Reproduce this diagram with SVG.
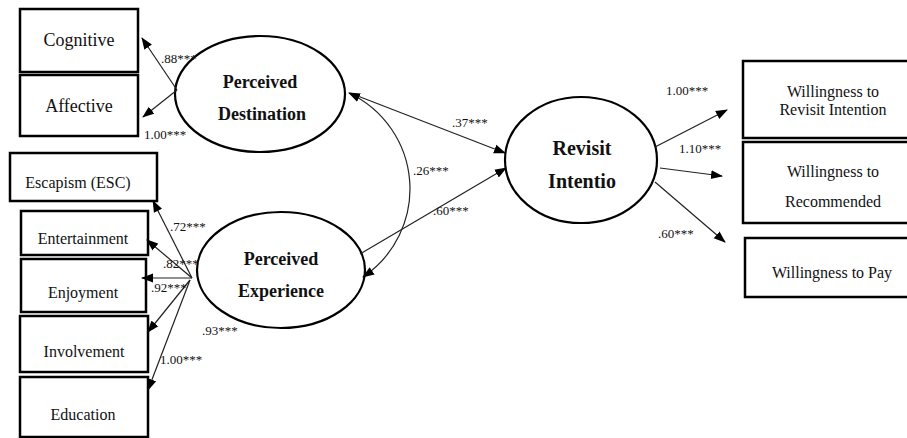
<svg xmlns="http://www.w3.org/2000/svg" width="907" height="438" viewBox="0 0 907 438">
<style>
.box{fill:#fff;stroke:#000;stroke-width:2.5}
.ell{fill:#fff;stroke:#000;stroke-width:2.2}
text{font-family:'Liberation Serif','Times New Roman','DejaVu Serif',serif}
.bt{font-size:16px;fill:#111;text-anchor:middle}
.bt.big{font-size:18px}
.et{font-weight:bold;font-size:18px;fill:#111;text-anchor:middle}
.et.big{font-size:20px}
.lb{font-size:13px;fill:#111}
.ln{fill:none;stroke:#222;stroke-width:1.2}
</style>
<defs>
<marker id="ah" markerUnits="userSpaceOnUse" markerWidth="12" markerHeight="10" refX="11" refY="4.5" orient="auto-start-reverse" viewBox="0 0 12 9">
<path d="M0,0 L12,4.5 L0,9 z" fill="#000"/>
</marker>
</defs>
<g id="cognitive"><rect class="box" x="20" y="9" width="118" height="63"/><text class="bt big" x="79" y="46">Cognitive</text></g>
<g id="affective"><rect class="box" x="20" y="75" width="118" height="61"/><text class="bt big" x="79" y="112">Affective</text></g>
<g id="escapism"><rect class="box" x="10" y="153" width="147" height="48"/><text class="bt" x="78" y="188">Escapism (ESC)</text></g>
<g id="entertainment"><rect class="box" x="21" y="211" width="127" height="44"/><text class="bt" x="83" y="244">Entertainment</text></g>
<g id="enjoyment"><rect class="box" x="21" y="259" width="125" height="53"/><text class="bt" x="83" y="298">Enjoyment</text></g>
<g id="involvement"><rect class="box" x="20" y="316" width="128" height="56"/><text class="bt" x="84" y="357">Involvement</text></g>
<g id="education"><rect class="box" x="20" y="377" width="128" height="60"/><text class="bt" x="83" y="420">Education</text></g>
<g id="willing-revisit"><rect class="box" x="743" y="61" width="180" height="77"/><text class="bt" x="833" y="97">Willingness to</text><text class="bt" x="833" y="115">Revisit Intention</text></g>
<g id="willing-recommend"><rect class="box" x="743" y="142" width="180" height="81"/><text class="bt" x="833" y="177">Willingness to</text><text class="bt" x="833" y="207">Recommended</text></g>
<g id="willing-pay"><rect class="box" x="745" y="238" width="180" height="59"/><text class="bt" x="832" y="278">Willingness to Pay</text></g>
<g id="perceived-destination"><ellipse class="ell" cx="260" cy="94" rx="85" ry="58"/><text class="et" x="260" y="88">Perceived</text><text class="et" x="262" y="120">Destination</text></g>
<g id="perceived-experience"><ellipse class="ell" cx="281" cy="270" rx="84" ry="58"/><text class="et" x="281" y="265">Perceived</text><text class="et" x="281" y="297">Experience</text></g>
<g id="revisit-intention"><ellipse class="ell" cx="581" cy="160" rx="76" ry="63"/><text class="et big" x="582" y="155">Revisit</text><text class="et big" x="582" y="188">Intentio</text></g>
<g id="connectors">
<line class="ln" x1="177" y1="90" x2="142" y2="38" marker-end="url(#ah)"/>
<line class="ln" x1="177" y1="90" x2="143" y2="117" marker-end="url(#ah)"/>
<line class="ln" x1="192" y1="278" x2="153" y2="201" marker-end="url(#ah)"/>
<line class="ln" x1="192" y1="278" x2="147" y2="240" marker-end="url(#ah)"/>
<line class="ln" x1="192" y1="278" x2="142" y2="278" marker-end="url(#ah)"/>
<line class="ln" x1="190" y1="280" x2="148" y2="332" marker-end="url(#ah)"/>
<line class="ln" x1="190" y1="280" x2="148" y2="390" marker-end="url(#ah)"/>
<line class="ln" x1="350" y1="93" x2="505" y2="153" marker-end="url(#ah)"/>
<line class="ln" x1="360" y1="254" x2="506" y2="168" marker-end="url(#ah)"/>
<path class="ln" d="M349,93 A106,106 0 0 1 363,277" marker-start="url(#ah)" marker-end="url(#ah)"/>
<line class="ln" x1="655" y1="147" x2="727" y2="110" marker-end="url(#ah)"/>
<line class="ln" x1="660" y1="168" x2="722" y2="176" marker-end="url(#ah)"/>
<line class="ln" x1="655" y1="182" x2="725" y2="242" marker-end="url(#ah)"/>
</g>
<g id="labels">
<text class="lb" x="161" y="63">.88***</text>
<text class="lb" x="144" y="139">1.00***</text>
<text class="lb" x="170" y="231">.72***</text>
<text class="lb" x="163" y="268">.82***</text>
<text class="lb" x="151" y="292">.92***</text>
<text class="lb" x="202" y="335">.93***</text>
<text class="lb" x="160" y="364">1.00***</text>
<text class="lb" x="452" y="127">.37***</text>
<text class="lb" x="413" y="175">.26***</text>
<text class="lb" x="433" y="215">.60***</text>
<text class="lb" x="666" y="95">1.00***</text>
<text class="lb" x="679" y="153">1.10***</text>
<text class="lb" x="658" y="238">.60***</text>
</g>
</svg>
